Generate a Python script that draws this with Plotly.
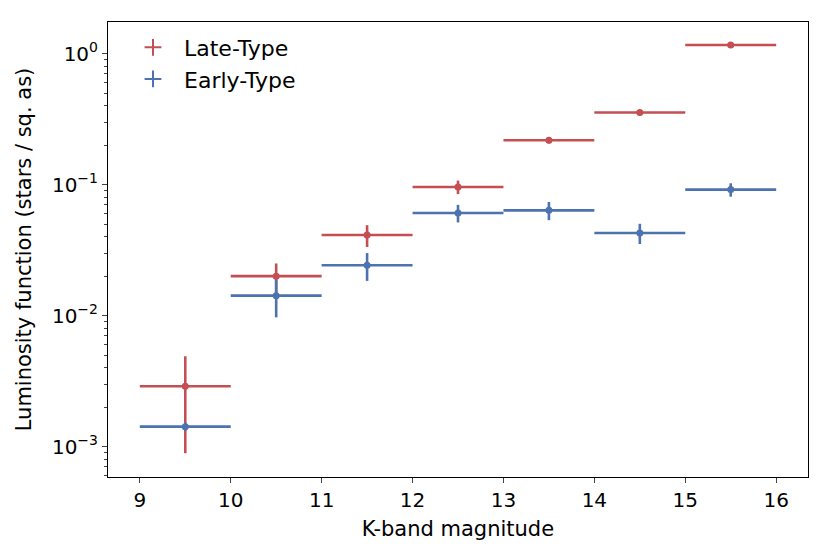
import plotly.graph_objects as go

# Data
mag_centers = [9.5, 10.5, 11.5, 12.5, 13.5, 14.5, 15.5]
bin_half_width = [0.5, 0.5, 0.5, 0.5, 0.5, 0.5, 0.5]
late_lf = [0.00289, 0.0200, 0.0412, 0.0959, 0.218, 0.355, 1.163]
late_err = [0.0020, 0.0050, 0.0078, 0.0113, 0.012, 0.016, 0.047]
early_lf = [0.00142, 0.0142, 0.0242, 0.0607, 0.0636, 0.0427, 0.0916]
early_err = [0.0001, 0.0045, 0.0058, 0.0093, 0.0101, 0.0075, 0.0107]
x_ticks = [9, 10, 11, 12, 13, 14, 15, 16]
y_ticks = [0.001, 0.01, 0.1, 1]
y_tick_text = ["10<sup>−3</sup>", "10<sup>−2</sup>", "10<sup>−1</sup>", "10<sup>0</sup>"]
decades = [0.0001, 0.001, 0.01, 0.1, 1]
minor_mult = [2, 3, 4, 5, 6, 7, 8, 9]
y_minor = [d * m for d in decades for m in minor_mult]

RED = "#C44E52"
BLUE = "#4C72B0"
FONT = "DejaVu Sans"
FS = 20

fig = go.Figure()

for name, ys, errs, col in [("Late-Type", late_lf, late_err, RED),
                            ("Early-Type", early_lf, early_err, BLUE)]:
    fig.add_trace(go.Scatter(
        x=mag_centers, y=ys, mode="markers", showlegend=False,
        marker=dict(color=col, size=7),
        error_x=dict(type="data", array=bin_half_width, color=col, thickness=2.6, width=0),
        error_y=dict(type="data", array=errs, color=col, thickness=2.6, width=0),
    ))

for name, col in [("Late-Type", RED), ("Early-Type", BLUE)]:
    fig.add_trace(go.Scatter(
        x=[None], y=[None], mode="markers", name=name,
        marker=dict(color=col, symbol="cross-thin", size=18, line=dict(color=col, width=2.8)),
    ))

fig.update_layout(
    width=831, height=556,
    margin=dict(l=108, r=23, t=22, b=79),
    paper_bgcolor="white", plot_bgcolor="white",
    font=dict(family=FONT, size=FS, color="black"),
    legend=dict(x=0.02, y=0.99, xanchor="left", yanchor="top",
                bgcolor="rgba(0,0,0,0)", font=dict(size=22),
                itemsizing="constant", itemwidth=52),
    xaxis=dict(
        range=[8.65, 16.35], tickvals=x_ticks, ticks="outside", ticklen=5, tickwidth=1,
        showgrid=False, zeroline=False, showline=True, linecolor="black", linewidth=1,
        mirror=True, title=dict(text="K-band magnitude", font=dict(size=21), standoff=10),
        tickfont=dict(size=FS),
    ),
    yaxis=dict(
        type="log", range=[-3.232, 0.241], tickvals=y_ticks, ticktext=y_tick_text,
        ticks="outside", ticklen=5, tickwidth=1,
        minor=dict(tickvals=y_minor, ticks="outside", ticklen=3, tickwidth=1, showgrid=False),
        showgrid=False, zeroline=False, showline=True, linecolor="black", linewidth=1,
        mirror=True, title=dict(text="Luminosity function (stars / sq. as)", font=dict(size=21), standoff=14),
        tickfont=dict(size=FS),
    ),
)

fig.write_html("out.html", config={"displayModeBar": False},
               post_script="document.body.style.margin='0';")
